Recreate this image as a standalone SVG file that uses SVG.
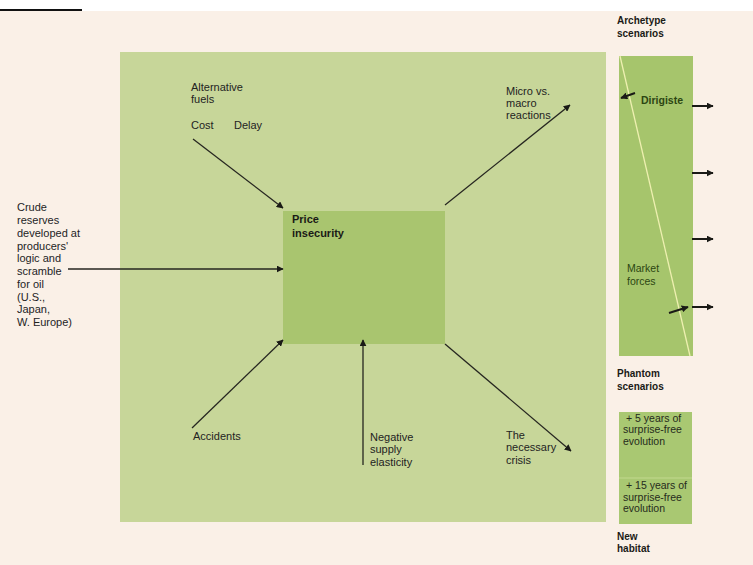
<svg xmlns="http://www.w3.org/2000/svg" width="753" height="565" viewBox="0 0 753 565">
<defs>
<style>
text{font-family:"Liberation Sans",Arial,sans-serif;font-size:11px;fill:#23231f}
.b{font-weight:bold;fill:#1a1a16}
.g{fill:#2c4612;font-size:10.5px}
.p{font-size:10.5px;fill:#262b1c}
.c{stroke:#262620;stroke-width:1.3;fill:none;marker-end:url(#ah)}
.o{stroke:#1a1a16;stroke-width:2;fill:none;marker-end:url(#ah2)}
</style>
<marker id="ah" viewBox="0 0 10 10" refX="9" refY="5" markerWidth="7" markerHeight="7" markerUnits="userSpaceOnUse" orient="auto"><path d="M0,0L10,5L0,10z" fill="#1a1a16"/></marker>
<marker id="ah2" viewBox="0 0 10 10" refX="9" refY="5" markerWidth="7" markerHeight="7" markerUnits="userSpaceOnUse" orient="auto"><path d="M0,0L10,5L0,10z" fill="#1a1a16"/></marker>
</defs>
<rect x="0" y="0" width="753" height="565" fill="#faf0e7"/>
<rect x="0" y="0" width="753" height="11" fill="#ffffff"/>
<line x1="0" y1="10" x2="82" y2="10" stroke="#111" stroke-width="2"/>
<g id="frame"><rect x="120" y="52" width="486" height="470" fill="#c7d699"/></g>
<g id="price-insecurity"><rect x="283" y="211" width="162" height="133" fill="#a9c56f"/>
<text class="b" x="292" y="223">Price</text><text class="b" x="292" y="237">insecurity</text></g>
<g id="crude"><text x="17" y="211">Crude</text><text x="17" y="224">reserves</text><text x="17" y="237">developed at</text><text x="17" y="250">producers'</text><text x="17" y="262">logic and</text><text x="17" y="275">scramble</text><text x="17" y="288">for oil</text><text x="17" y="301">(U.S.,</text><text x="17" y="313">Japan,</text><text x="17" y="326">W. Europe)</text></g>
<g id="alt-fuels"><text x="191" y="91">Alternative</text><text x="191" y="103">fuels</text><text x="191" y="129">Cost</text><text x="234" y="129">Delay</text></g>
<g id="micro"><text x="506" y="95">Micro vs.</text><text x="506" y="107">macro</text><text x="506" y="119">reactions</text></g>
<g id="accidents"><text x="193" y="440">Accidents</text></g>
<g id="negative"><text x="370" y="441">Negative</text><text x="370" y="453">supply</text><text x="370" y="466">elasticity</text></g>
<g id="crisis"><text x="506" y="439">The</text><text x="506" y="451">necessary</text><text x="506" y="464">crisis</text></g>
<g id="archetype"><text class="b" x="617" y="24" style="font-size:10px">Archetype</text><text class="b" x="617" y="37" style="font-size:10px">scenarios</text>
<rect x="619" y="56" width="74" height="300" fill="#a6c56c"/>
<line x1="620" y1="56" x2="690" y2="356" stroke="#eef0b0" stroke-width="1.3"/>
<text class="g" x="641" y="104" style="font-weight:bold">Dirigiste</text>
<text class="g" x="627" y="272">Market</text><text class="g" x="627" y="285">forces</text></g>
<g id="phantom"><text class="b" x="617" y="377" style="font-size:10px">Phantom</text><text class="b" x="617" y="390" style="font-size:10px">scenarios</text>
<rect x="619" y="412" width="73" height="112" fill="#a9c872"/>
<line x1="619" y1="478" x2="692" y2="478" stroke="#c2d98e" stroke-width="1"/>
<text class="p" x="626" y="422">+ 5 years of</text><text class="p" x="623" y="433">surprise-free</text><text class="p" x="623" y="445">evolution</text>
<text class="p" x="626" y="489">+ 15 years of</text><text class="p" x="623" y="501">surprise-free</text><text class="p" x="623" y="512">evolution</text></g>
<g id="habitat"><text class="b" x="617" y="540" style="font-size:10px">New</text><text class="b" x="617" y="552" style="font-size:10px">habitat</text></g>
<g id="connectors">
<line class="c" x1="68" y1="269" x2="283" y2="269"/>
<line class="c" x1="193" y1="139" x2="283" y2="208"/>
<line class="c" x1="445" y1="205" x2="570" y2="105"/>
<line class="c" x1="192" y1="428" x2="283" y2="340"/>
<line class="c" x1="363" y1="465" x2="363" y2="340"/>
<line class="c" x1="445" y1="344" x2="571" y2="451"/>
<line class="o" x1="635" y1="93" x2="621" y2="98"/>
<line class="o" x1="669" y1="313" x2="688" y2="307"/>
<line class="o" x1="692" y1="106" x2="713" y2="106"/>
<line class="o" x1="692" y1="173" x2="713" y2="173"/>
<line class="o" x1="692" y1="239" x2="713" y2="239"/>
<line class="o" x1="692" y1="307" x2="713" y2="307"/>
</g>
</svg>
